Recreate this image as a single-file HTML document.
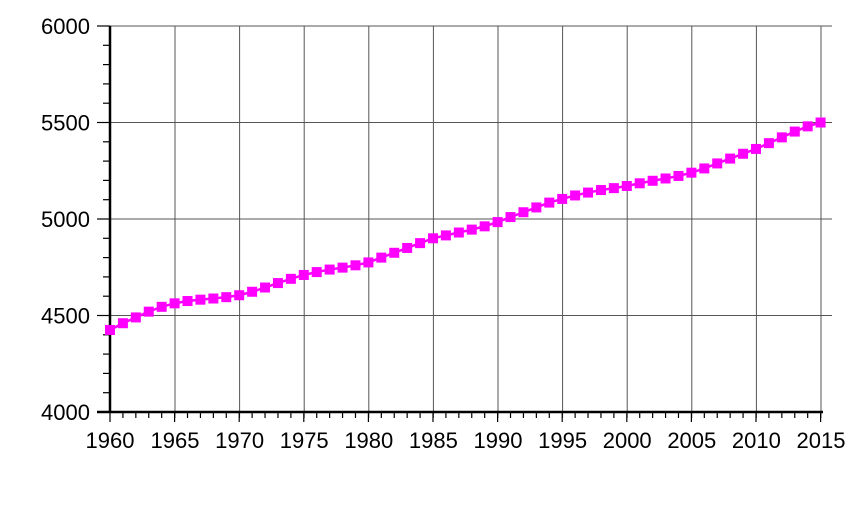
<!DOCTYPE html>
<html><head><meta charset="utf-8"><style>body{margin:0;background:#fff}svg{display:block}</style></head><body>
<svg width="854" height="512" xmlns="http://www.w3.org/2000/svg" font-family="Liberation Sans, sans-serif" font-size="22">
<g stroke="#555" stroke-width="1">
<line x1="97" y1="26" x2="832" y2="26"/><line x1="97" y1="122.5" x2="832" y2="122.5"/><line x1="97" y1="219" x2="832" y2="219"/><line x1="97" y1="315.5" x2="832" y2="315.5"/>
<line x1="175" y1="26" x2="175" y2="418"/><line x1="239.6" y1="26" x2="239.6" y2="418"/><line x1="304.2" y1="26" x2="304.2" y2="418"/><line x1="368.8" y1="26" x2="368.8" y2="418"/><line x1="433.4" y1="26" x2="433.4" y2="418"/><line x1="498" y1="26" x2="498" y2="418"/><line x1="562.6" y1="26" x2="562.6" y2="418"/><line x1="627.2" y1="26" x2="627.2" y2="418"/><line x1="691.8" y1="26" x2="691.8" y2="418"/><line x1="756.4" y1="26" x2="756.4" y2="418"/><line x1="821" y1="26" x2="821" y2="418"/>
</g>
<g id="ticks" stroke="#000" stroke-width="1.2"></g>
<line x1="110" y1="26" x2="110" y2="413" stroke="#000" stroke-width="2.5"/>
<line x1="97" y1="412" x2="823" y2="412" stroke="#000" stroke-width="2.5"/>
<g text-anchor="end"><text x="90" y="34">6000</text><text x="90" y="130.5">5500</text><text x="90" y="227">5000</text><text x="90" y="323.5">4500</text><text x="90" y="420">4000</text></g>
<g text-anchor="middle"><text x="110" y="448">1960</text><text x="175" y="448">1965</text><text x="239.6" y="448">1970</text><text x="304.2" y="448">1975</text><text x="368.8" y="448">1980</text><text x="433.4" y="448">1985</text><text x="498" y="448">1990</text><text x="562.6" y="448">1995</text><text x="627.2" y="448">2000</text><text x="691.8" y="448">2005</text><text x="756.4" y="448">2010</text><text x="821" y="448">2015</text></g>
<polyline id="ln" fill="none" stroke="#f0f" stroke-width="2.5"/>
<g id="pts" fill="#f0f"></g>
</svg>
<script>
var d=[4425,4460,4490,4520,4545,4563,4575,4582,4588,4595,4605,4623,4645,4668,4690,4710,4725,4738,4748,4760,4775,4800,4825,4850,4875,4900,4915,4930,4945,4962,4984,5010,5035,5060,5085,5104,5122,5137,5150,5160,5171,5185,5198,5210,5223,5240,5262,5288,5313,5338,5363,5393,5423,5453,5480,5500];
var ns="http://www.w3.org/2000/svg",pts="",g=document.getElementById("pts"),t=document.getElementById("ticks");
d.forEach(function(v,i){var x=110+i*12.92,y=412-(v-4000)*0.193;pts+=x+","+y+" ";var r=document.createElementNS(ns,"rect");r.setAttribute("x",x-5);r.setAttribute("y",y-5);r.setAttribute("width",10);r.setAttribute("height",10);g.appendChild(r);});
document.getElementById("ln").setAttribute("points",pts);
for(var i=0;i<=55;i++){var x=110+i*12.92,l=document.createElementNS(ns,"line");l.setAttribute("x1",x);l.setAttribute("x2",x);l.setAttribute("y1",412);l.setAttribute("y2",i%5?418:422);t.appendChild(l);}
for(var j=0;j<=20;j++){var y=412-j*19.3,l=document.createElementNS(ns,"line");l.setAttribute("x1",j%5?103:97);l.setAttribute("x2",110);l.setAttribute("y1",y);l.setAttribute("y2",y);t.appendChild(l);}
</script>
</body></html>
